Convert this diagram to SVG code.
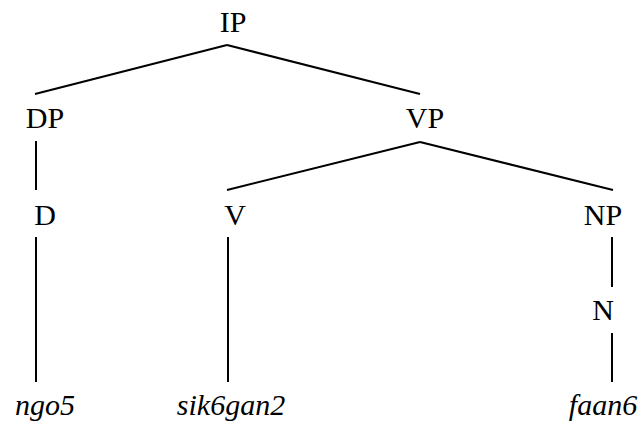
<svg xmlns="http://www.w3.org/2000/svg" width="643" height="423" viewBox="0 0 643 423">
  <style>
    .lbl { font-family: "Liberation Serif", "Times New Roman", serif; font-size: 30px; fill: #000; text-anchor: middle; }
    .word { font-style: italic; }
    .edge { stroke: #000; stroke-width: 2; fill: none; stroke-linecap: butt; }
  </style>
  <rect width="643" height="423" fill="#fff"/>
  <!-- tree branches -->
  <g id="edges">
    <line class="edge" x1="227" y1="45" x2="35" y2="94"/>
    <line class="edge" x1="227" y1="45" x2="420" y2="94"/>
    <line class="edge" x1="36" y1="141" x2="36" y2="190"/>
    <line class="edge" x1="420" y1="142" x2="227" y2="190"/>
    <line class="edge" x1="420" y1="142" x2="613" y2="190"/>
    <line class="edge" x1="36" y1="237" x2="36" y2="382"/>
    <line class="edge" x1="228" y1="237" x2="228" y2="382"/>
    <line class="edge" x1="612" y1="237" x2="612" y2="287"/>
    <line class="edge" x1="612" y1="333" x2="612" y2="382"/>
  </g>
  <!-- category labels -->
  <g id="IP"><text class="lbl" x="233" y="32">IP</text></g>
  <g id="DP"><text class="lbl" x="45" y="128">DP</text></g>
  <g id="VP"><text class="lbl" x="425" y="128">VP</text></g>
  <g id="D"><text class="lbl" x="45" y="225">D</text></g>
  <g id="V"><text class="lbl" x="235" y="225">V</text></g>
  <g id="NP"><text class="lbl" x="603" y="225">NP</text></g>
  <g id="N"><text class="lbl" x="603" y="320">N</text></g>
  <!-- terminal words -->
  <g id="ngo5"><text class="lbl word" x="45" y="415">ngo5</text></g>
  <g id="sik6gan2"><text class="lbl word" x="231" y="415">sik6gan2</text></g>
  <g id="faan6"><text class="lbl word" x="603" y="415">faan6</text></g>
</svg>
